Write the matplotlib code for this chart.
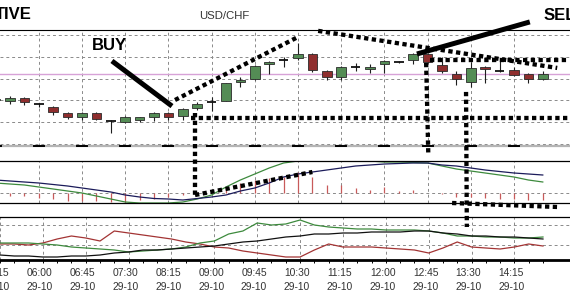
import matplotlib
matplotlib.use("Agg")
import matplotlib.pyplot as plt
from matplotlib.lines import Line2D
from matplotlib.patches import Rectangle
from matplotlib.transforms import blended_transform_factory

# ---------------- data ----------------
candle_idx = list(range(-1, 38))
opens  = [.87702, .87697, .87711, .87684, .87670, .87642, .87624, .87642, .87606, .87601,
          .87610, .87624, .87642, .87629, .87665, .87693, .87697, .87785, .87798, .87867,
          .87886, .87895, .87913, .87835, .87808, .87853, .87844, .87867, .87876, .87886,
          .87913, .87863, .87821, .87785, .87853, .87835, .87840, .87821, .87798]
closes = [.87707, .87711, .87693, .87684, .87647, .87624, .87642, .87615, .87606, .87624,
          .87622, .87642, .87624, .87661, .87684, .87693, .87780, .87794, .87858, .87876,
          .87886, .87913, .87840, .87808, .87853, .87853, .87853, .87881, .87876, .87913,
          .87876, .87835, .87798, .87849, .87844, .87835, .87817, .87798, .87821]
highs  = [.87711, .87720, .87716, .87688, .87674, .87647, .87647, .87647, .87610, .87629,
          .87624, .87647, .87647, .87665, .87693, .87716, .87780, .87808, .87863, .87881,
          .87899, .87964, .87918, .87840, .87858, .87872, .87867, .87886, .87881, .87918,
          .87918, .87899, .87835, .87876, .87858, .87886, .87853, .87826, .87835]
lows   = [.87697, .87684, .87679, .87670, .87633, .87615, .87610, .87610, .87550, .87596,
          .87601, .87606, .87610, .87610, .87656, .87651, .87697, .87762, .87794, .87821,
          .87853, .87886, .87830, .87794, .87794, .87835, .87826, .87826, .87872, .87867,
          .87872, .87826, .87771, .87762, .87780, .87830, .87812, .87780, .87794]

macd_hist   = [-2, -3, -3, -5, -6, -8, -8, -8, -9, -9, -7, -6, -4, -2, 1, 3, 6, 10, 13, 15,
               16, 21, 16, 8, 8, 5, 3, 6, 2, 3, 0.5, -0.5, -4, -4, -5, -6, -6, -7, -7]
macd_line   = [13, 12, 11, 10, 8.5, 7, 5, 3, 1, -2, -4, -5.5, -6, -7, -5.5, -4, -2, 2, 5, 10,
               16, 19, 21, 23, 25, 27, 28, 29, 29.5, 30, 30, 28, 27, 25, 23, 21.5, 20, 19, 18]
signal_line = [10, 9, 8, 6, 4, 2, 0, -3, -6, -9, -10, -10, -10, -9, -6, -2, 6, 13, 19, 25,
               30, 32, 32, 33, 33, 32.5, 32, 31, 31, 30.5, 30, 27, 24, 22, 20, 18, 16, 13, 11]

osc_red   = [16, 16, 15, 17, 21, 24, 22, 19, 29, 27, 25, 23, 21, 18, 16, 13, 12, 9, 7, 5,
             3, 3, 10, 16, 13, 13, 13, 12, 11, 10, 7, 12, 18, 13, 12, 11, 13, 16, 14]
osc_green = [17, 17, 17, 16, 15, 13, 12, 11, 10, 8, 9, 10, 11, 13, 17, 19, 26, 29, 37, 35,
             36, 40, 35, 33, 32, 31, 31, 30, 30, 30, 29, 27, 24, 24, 23, 23, 22, 22, 23]
osc_black = [5, 4, 4, 3, 3, 4, 4, 5, 7, 8, 10, 10, 11, 12, 13, 14, 16, 18, 19, 21,
             23, 24, 26, 26, 27, 27, 28, 28, 28, 29, 29, 27, 26, 24, 24, 23, 23, 22, 21]

time_labels = ["05:15", "06:00", "06:45", "07:30", "08:15", "09:00", "09:45",
               "10:30", "11:15", "12:00", "12:45", "13:30", "14:15"]
date_labels = ["29-10"] * len(time_labels)
label_idx = [-1 + 3 * k for k in range(len(time_labels))]

price_grid = [0.8750, 0.8760, 0.8770, 0.8780, 0.8790, 0.8800]
pink_level = 0.87821

# ---------------- layout ----------------
W, H = 570, 299
fig = plt.figure(figsize=(W / 100, H / 100), dpi=100)
fig.patch.set_facecolor("white")
plt.rcParams["font.family"] = ["Liberation Sans", "DejaVu Sans"]

def box(top, bottom):
    return [0, (H - bottom) / H, 1, (bottom - top) / H]

ax_main = fig.add_axes(box(30, 146))
ax_ind = fig.add_axes(box(161, 203))
ax_osc = fig.add_axes(box(217, 260))

xlim = (-0.694, 38.89)
for ax in (ax_main, ax_ind, ax_osc):
    ax.set_xlim(*xlim)
    ax.set_facecolor("white")
    ax.tick_params(left=False, labelleft=False, bottom=False, labelbottom=False)
    for s in ("left", "right"):
        ax.spines[s].set_visible(False)
    for xi in label_idx:
        ax.axvline(xi, color="#8a8a8a", lw=0.7, ls=(0, (3, 3)), zorder=0)

ax_main.set_ylim(0.87491, 0.88023)
ax_ind.set_ylim(-10, 32)
ax_osc.set_ylim(0, 43)

# main panel
ax_main.spines["top"].set_linewidth(0.8)
ax_main.spines["bottom"].set_color("#b4b4b4")
ax_main.spines["bottom"].set_linewidth(1.6)
for p in price_grid:
    ax_main.axhline(p, color="#8a8a8a", lw=0.7, ls=(0, (3, 3)), zorder=0)
ax_main.axhline(pink_level, color="#d7a2d7", lw=1.0, zorder=1)
for xi in label_idx:
    ax_main.plot([xi - 0.35, xi + 0.35], [0.87491, 0.87491], color="black", lw=1.4,
                 clip_on=False, zorder=3)

GREEN = "#548c55"
RED = "#8f2e2e"
bw = 0.66
for i, o, c, h, l in zip(candle_idx, opens, closes, highs, lows):
    ax_main.vlines(i, l, h, color="#1e1e1e", lw=0.8, zorder=2)
    if o == c:
        ax_main.hlines(o, i - bw / 2, i + bw / 2, color="#111111", lw=1.3, zorder=3)
    else:
        col = GREEN if c > o else RED
        ax_main.add_patch(Rectangle((i - bw / 2, min(o, c)), bw, abs(c - o),
                                    facecolor=col, edgecolor="#2a2a2a", lw=0.6, zorder=3))

# indicator panel
for s in ("top", "bottom"):
    ax_ind.spines[s].set_linewidth(0.9)
ax_ind.axhline(0, color="#8a8a8a", lw=0.7, ls=(0, (3, 3)), zorder=0)
ax_ind.vlines(candle_idx, 0, macd_hist, color="#c85a5a", lw=0.9, zorder=1)
ax_ind.plot(candle_idx, signal_line, color="#3d8a3d", lw=0.9, zorder=2)
ax_ind.plot(candle_idx, macd_line, color="#1b1b5a", lw=0.9, zorder=3)

# oscillator panel
ax_osc.spines["top"].set_linewidth(0.9)
ax_osc.spines["bottom"].set_linewidth(2.0)
for lv in (35, 15):
    ax_osc.axhline(lv, color="#8a8a8a", lw=0.7, ls=(0, (3, 3)), zorder=0)
ax_osc.plot(candle_idx, osc_red, color="#a33434", lw=0.9, zorder=2)
ax_osc.plot(candle_idx, osc_green, color="#3d8a3d", lw=0.9, zorder=2)
ax_osc.plot(candle_idx, osc_black, color="#111111", lw=0.9, zorder=3)
ax_osc.set_xticks(candle_idx)
ax_osc.tick_params(axis="x", bottom=True, length=2.5, width=0.7, direction="out",
                   labelbottom=False)

tr = blended_transform_factory(ax_osc.transData, fig.transFigure)
for xi, t, d in zip(label_idx, time_labels, date_labels):
    ax_osc.text(xi - 0.22, 1 - 273 / H, t, transform=tr, ha="center", va="center",
                fontsize=7.4, color="#333333", clip_on=False)
    ax_osc.text(xi - 0.22, 1 - 287 / H, d, transform=tr, ha="center", va="center",
                fontsize=7.4, color="#333333", clip_on=False)

# ---------------- annotations ----------------
inv = fig.transFigure.inverted()

def fpt(ax, x, y):
    return inv.transform(ax.transData.transform((x, y)))

def seg(pts, **kw):
    xy = [fpt(*p) for p in pts]
    xs = [q[0] for q in xy]
    ys = [q[1] for q in xy]
    fig.add_artist(Line2D(xs, ys, transform=fig.transFigure, zorder=10, **kw))

dot = dict(color="black", lw=3.1, linestyle=(0, (1, 0.8)), dash_capstyle="butt")
seg([(ax_main, 11.46, .87702), (ax_main, 20.0, .87991)], **dot)
seg([(ax_main, 21.4, .88019), (ax_main, 38.0, .87849)], **dot)
seg([(ax_main, 29.2, .87886), (ax_main, 38.8, .87886)], **dot)
seg([(ax_main, 12.6, .87619), (ax_main, 39.0, .87619)], **dot)
seg([(ax_main, 12.85, .87642), (ax_ind, 12.85, -2)], **dot)
seg([(ax_ind, 12.85, -2), (ax_ind, 21.0, 21)], **dot)
seg([(ax_main, 28.9, .87872), (ax_main, 29.05, .87450)], **dot)
seg([(ax_main, 31.67, .87739), (ax_osc, 31.67, 33)], **dot)
seg([(ax_ind, 30.7, -10), (ax_ind, 38.05, -14)], **dot)

arrow = dict(color="black", lw=3.6, solid_capstyle="butt")
seg([(ax_main, 7.08, .87881), (ax_main, 11.25, .87674)], **arrow)
seg([(ax_main, 36.1, .88060), (ax_main, 28.26, .87913)], **arrow)

fig.text(109 / W, 1 - 45 / H, "BUY", fontsize=12, fontweight="bold", ha="center",
         va="center", color="black")
fig.text(32 / W, 1 - 14.5 / H, "TIVE", fontsize=12, fontweight="bold", ha="right",
         va="center", color="black")
fig.text(544 / W, 1 - 16 / H, "SELL", fontsize=12, fontweight="bold", ha="left",
         va="center", color="black")
fig.text(224.5 / W, 1 - 16 / H, "USD/CHF", fontsize=8.2, ha="center", va="center",
         color="#333333")

fig.savefig("out.png", dpi=100, facecolor="white")
